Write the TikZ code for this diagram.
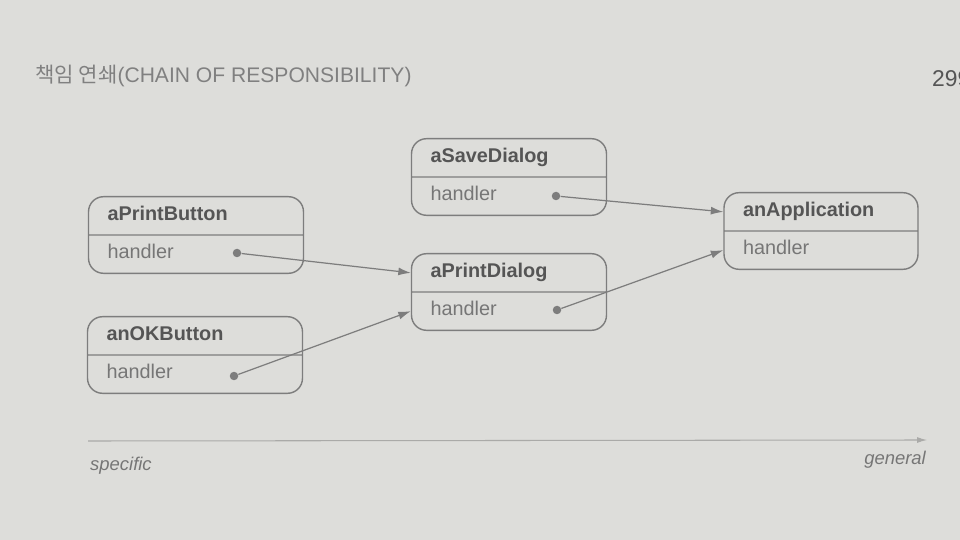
\documentclass[tikz,border=0pt]{standalone}
\usepackage{fontspec}
\setmainfont{Liberation Sans}
\newfontfamily\krfont{Noto Sans CJK KR}
\usetikzlibrary{shapes.multipart, arrows.meta, positioning}

\definecolor{papel}{RGB}{221,221,218}
\definecolor{linea}{RGB}{125,125,125}
\definecolor{titulo}{RGB}{85,85,85}
\definecolor{campo}{RGB}{118,118,118}
\definecolor{eje}{RGB}{170,170,168}

\tikzset{
  objeto/.style={rectangle split, rectangle split parts=2, draw=linea, line width=0.8pt,
    rounded corners=0.3cm, inner xsep=0.38cm, inner ysep=4pt, text width=#1,
    align=left, font=\fontsize{11.3}{13}\selectfont},
  punto/.style={circle, fill=linea, inner sep=0pt, minimum size=0.17cm},
  enlace/.style={draw=linea, line width=0.7pt, -{Latex[length=2.5mm, width=1.6mm]}},
  extremo/.style={text=campo, font=\fontsize{10.5}{12}\selectfont\itshape}
}

\newcommand{\objtexto}[1]{\textcolor{titulo}{\textbf{#1}}\strut\nodepart{two}\textcolor{campo}{handler}\strut}

\begin{document}
\begin{tikzpicture}[x=0.02cm, y=-0.02cm]
  % Marco de la imagen
  \useasboundingbox (0,0) rectangle (960,540);
  \fill[papel] (0,0) rectangle (960,540);

  % Encabezado de la pagina
  \node[anchor=west, text=gray, font=\fontsize{12}{14}\selectfont] (cab) at (29,76)
    {{\krfont 책임 연쇄}(CHAIN OF RESPONSIBILITY)};
  \node[anchor=west, text=titulo, font=\fontsize{13}{15}\selectfont] (pag) at (926,79) {299};

  % Objetos de la cadena
  \node[objeto=3.54cm] (pb) at (196,235) {\objtexto{aPrintButton}};
  \node[objeto=3.54cm] (ok) at (195,355) {\objtexto{anOKButton}};
  \node[objeto=3.14cm] (sd) at (509,177) {\objtexto{aSaveDialog}};
  \node[objeto=3.14cm] (pd) at (509,292) {\objtexto{aPrintDialog}};
  \node[objeto=3.12cm] (app) at (821,231) {\objtexto{anApplication}};

  % Referencias handler
  \node[punto] (pbh) at (237,253) {};
  \node[punto] (okh) at (234,376) {};
  \node[punto] (sdh) at (556,196) {};
  \node[punto] (pdh) at (557,310) {};
  \draw[enlace] (pbh) -- (pd.text west);
  \draw[enlace] (okh) -- (pd.two west);
  \draw[enlace] (sdh) -- (app.text west);
  \draw[enlace] (pdh) -- (app.two west);

  % Eje de especifico a general
  \coordinate (ejeA) at (88,441);
  \coordinate (ejeB) at (927,440);
  \draw[eje, line width=0.6pt, -{Latex[length=2mm, width=1.2mm]}] (ejeA) -- (ejeB);
  \node[extremo, anchor=west] (esp) at (84,466) {specific};
  \node[extremo, anchor=east] (gen) at (932,460) {general};
\end{tikzpicture}
\end{document}
